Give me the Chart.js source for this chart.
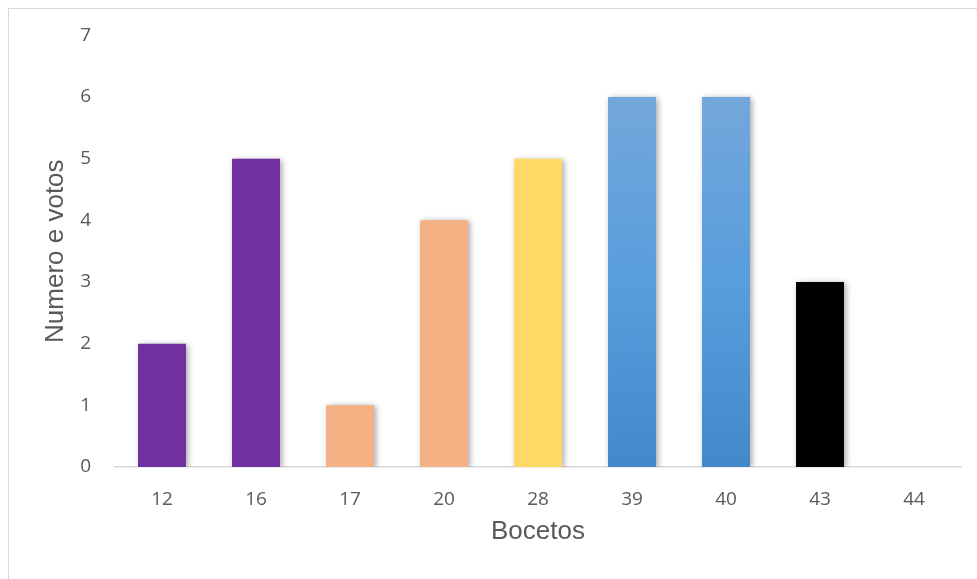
<!DOCTYPE html>
<html>
<head>
<meta charset="utf-8">
<script src="https://cdn.jsdelivr.net/npm/chart.js@4"></script>
<style>
    html, body { margin: 0; padding: 0; background: #fff; }
    #wrap { width: 977px; height: 579px; position: relative; }
</style>
</head>
<body>
<div id="wrap"><canvas id="votos-chart" width="977" height="579"></canvas></div>
<script>
// data
const bocetos = ['12', '16', '17', '20', '28', '39', '40', '43', '44'];
const votos = [2, 5, 1, 4, 5, 6, 6, 3, 0];
const yTicks = [0, 1, 2, 3, 4, 5, 6, 7];

const barColors = ['#7030A0', '#7030A0', '#F4B183', '#F4B183', '#FFD966', 'blue', 'blue', '#000000', '#000000'];

//blue bars get a vertical gradient like the office theme
function barFill(context) {
    const c = barColors[context.dataIndex];
    if (c !== 'blue') return c;
    const chart = context.chart;
    const y = chart.scales.y;
    if (!chart.chartArea || !y) return '#5B9BD5';
    const top = y.getPixelForValue(context.raw);
    const bottom = y.getPixelForValue(0);
    const grad = chart.ctx.createLinearGradient(0, top, 0, bottom);
    grad.addColorStop(0, '#73A7DB');
    grad.addColorStop(0.5, '#589DDC');
    grad.addColorStop(1, '#4388C9');
    return grad;
}

//soft shadow behind the bars
const barShadow = {
    id: 'barShadow',
    beforeDatasetsDraw(chart) {
        const ctx = chart.ctx;
        ctx.save();
        ctx.shadowColor = 'rgba(0, 0, 0, 0.35)';
        ctx.shadowBlur = 6;
        ctx.shadowOffsetX = 2;
        ctx.shadowOffsetY = 1;
    },
    afterDatasetsDraw(chart) {
        chart.ctx.restore();
    }
};

//thin frame around the chart area
const frame = {
    id: 'frame',
    beforeDraw(chart) {
        const ctx = chart.ctx;
        ctx.save();
        ctx.fillStyle = '#ffffff';
        ctx.fillRect(0, 0, chart.width, chart.height);
        ctx.strokeStyle = '#d9d9d9';
        ctx.lineWidth = 1;
        ctx.strokeRect(8.5, 8.5, chart.width + 20, chart.height + 20);
        ctx.restore();
    }
};

const ctx = document.getElementById('votos-chart');

new Chart(ctx, {
    type: 'bar',
    data: {
        labels: bocetos,
        datasets: [{
            label: 'Numero e votos',
            data: votos,
            backgroundColor: barFill,
            borderWidth: 0,
            categoryPercentage: 1,
            barPercentage: 0.51
        }]
    },
    options: {
        responsive: false,
        animation: false,
        layout: {
            padding: { left: 8, top: 28, right: 16, bottom: 0 }
        },
        plugins: {
            legend: { display: false },
            tooltip: { enabled: false }
        },
        scales: {
            x: {
                grid: { display: false, drawTicks: false },
                border: { display: true, color: '#d9d9d9', width: 1.5 },
                ticks: {
                    color: '#595959',
                    padding: 21,
                    font: { family: 'Open Sans', size: 19 }
                },
                title: {
                    display: true,
                    text: 'Bocetos',
                    color: '#595959',
                    font: { family: 'Liberation Sans', size: 26 },
                    padding: { top: 0, bottom: 32 }
                },
                afterFit(scale) {
                    scale.height = 579 - 467;
                }
            },
            y: {
                min: 0,
                max: 7,
                afterBuildTicks(scale) {
                    scale.ticks = yTicks.map(v => ({ value: v }));
                },
                grid: { display: false, drawTicks: false },
                border: { display: false },
                ticks: {
                    color: '#595959',
                    padding: 24,
                    font: { family: 'Open Sans', size: 19 }
                },
                title: {
                    display: true,
                    text: 'Numero e votos',
                    color: '#595959',
                    font: { family: 'Liberation Sans', size: 26 },
                    padding: { top: 32, bottom: 0 }
                },
                afterFit(scale) {
                    scale.width = 115 - 8;
                }
            }
        }
    },
    plugins: [frame, barShadow]
});
</script>
</body>
</html>
